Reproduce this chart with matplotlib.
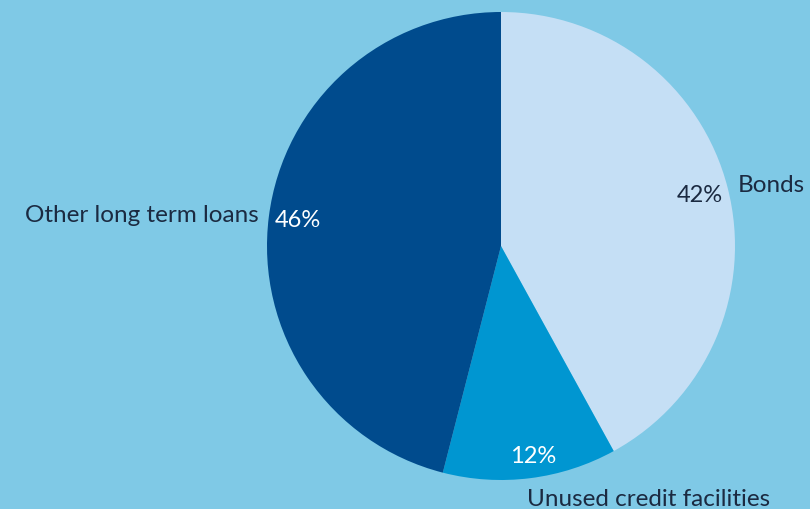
import matplotlib
matplotlib.use("Agg")
import matplotlib.pyplot as plt
import numpy as np

categories = ["Bonds", "Unused credit facilities", "Other long term loans"]
values = [42, 12, 46]
pct_labels = ["42%", "12%", "46%"]

colors = ["#C5DFF5", "#0096D1", "#004B8D"]
pct_colors = ["#1B2A41", "white", "white"]
bg = "#7FC9E6"

plt.rcParams['font.family'] = ['Lato', 'DejaVu Sans']

fig = plt.figure(figsize=(8.10, 5.09), dpi=100, facecolor=bg)
ax = fig.add_axes([(501 - 234) / 810, (509 - 480) / 509, 468 / 810, 468 / 509])
ax.set_facecolor(bg)

wedges, texts = ax.pie(values, labels=categories, colors=colors, startangle=90,
                       counterclock=False, labeldistance=1.045,
                       wedgeprops=dict(linewidth=0),
                       textprops=dict(fontsize=17.5, color="#1B2A41"))
ax.set_xlim(-1, 1)
ax.set_ylim(-1, 1)
ax.set_aspect('auto')

for i, w in enumerate(wedges):
    mid = np.deg2rad((w.theta1 + w.theta2) / 2)
    d = 0.876 if i != 1 else 0.905
    x, y = d * np.cos(mid), d * np.sin(mid)
    if i == 1:
        x += 0.025
    ax.text(x, y, pct_labels[i], ha='center', va='center',
            fontsize=17, color=pct_colors[i])
    if i == 1:
        texts[i].set_position((1.11 * np.cos(mid) - 0.03, 1.09 * np.sin(mid)))

fig.savefig("out.png", dpi=100, facecolor=bg)
